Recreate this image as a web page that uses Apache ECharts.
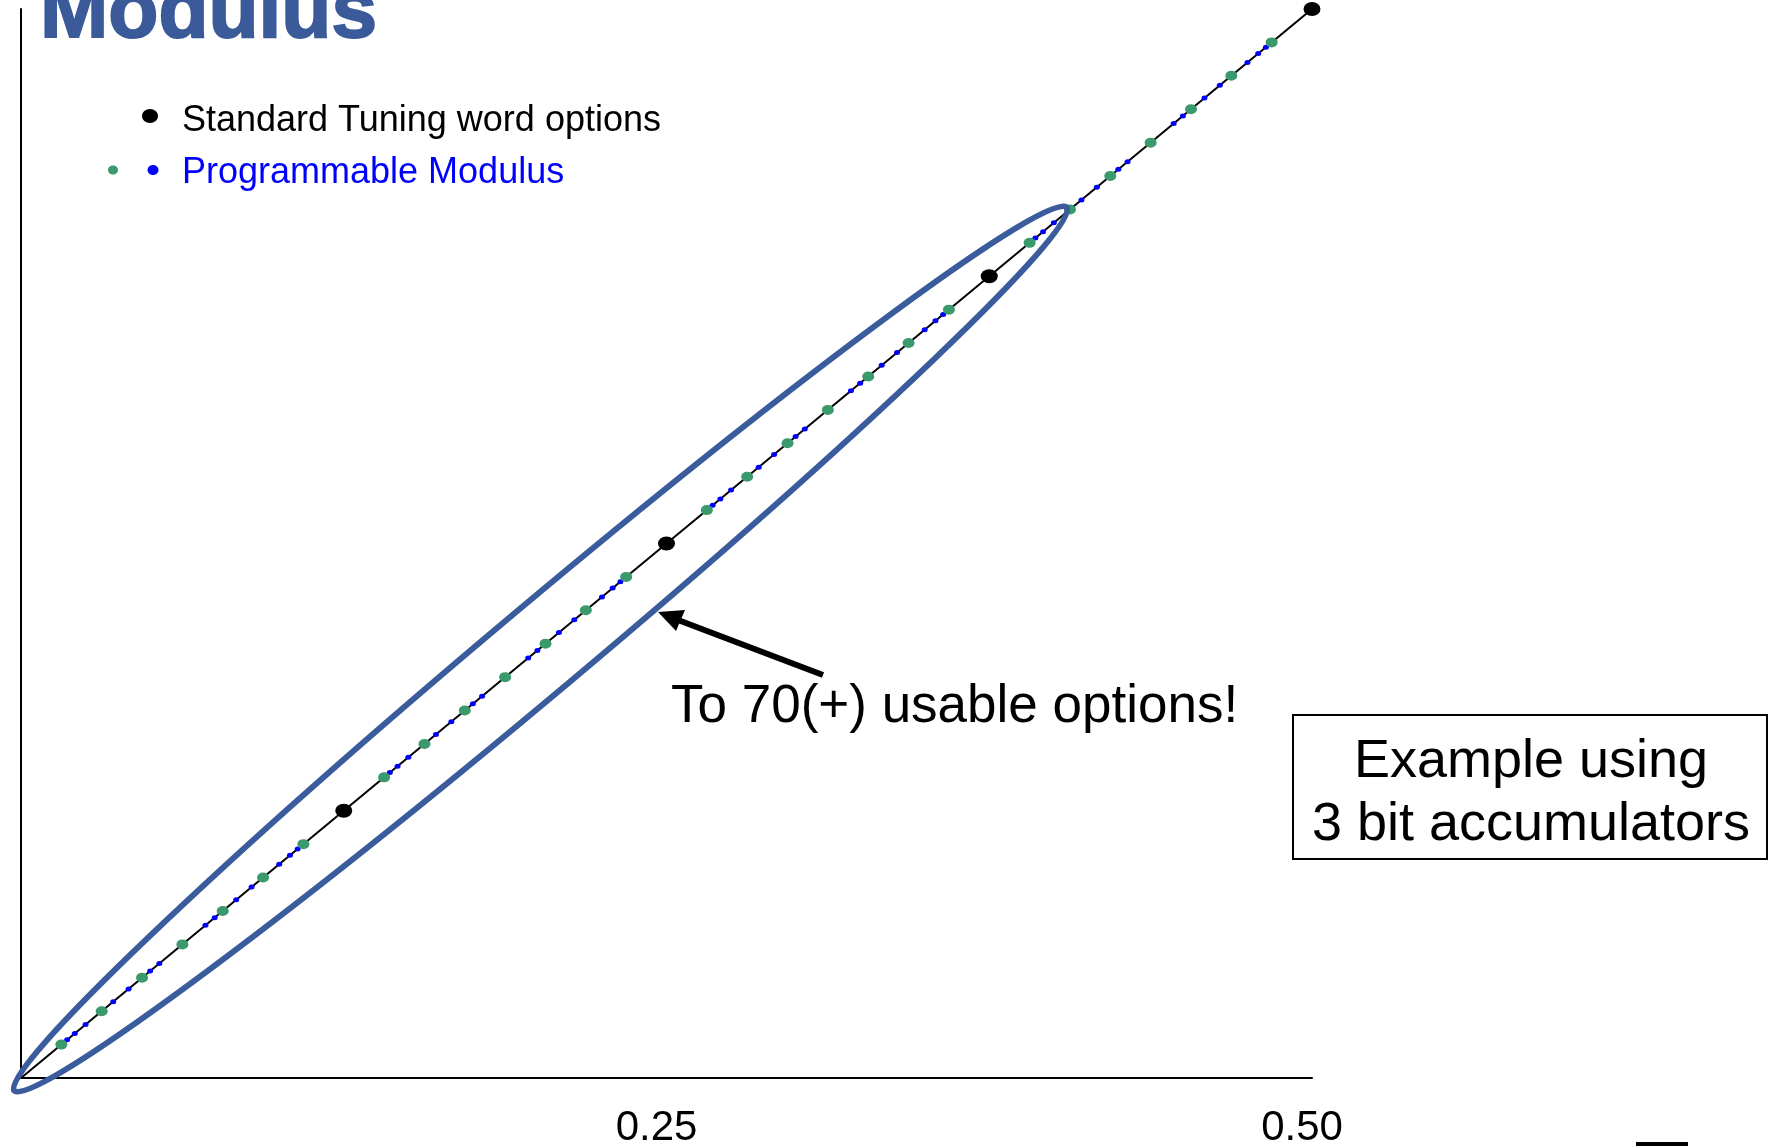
<!DOCTYPE html>
<html><head><meta charset="utf-8">
<script src="https://cdn.jsdelivr.net/npm/echarts@6/dist/echarts.min.js"></script>
<style>html,body{margin:0;padding:0;background:#fff}#c{width:1773px;height:1146px}</style>
</head><body><div id="c"></div>
<script>
// ---- data (every point lies on y = x) ----
const xTickValues = [0, 0.25, 0.5];
const diagonalX = [0, 0.5];
const standardOptions = [0.125, 0.25, 0.375, 0.5];
const modulus64 = [0.015625, 0.03125, 0.046875, 0.0625, 0.078125, 0.09375, 0.109375,
  0.140625, 0.15625, 0.171875, 0.1875, 0.203125, 0.21875, 0.234375,
  0.265625, 0.28125, 0.296875, 0.3125, 0.328125, 0.34375, 0.359375,
  0.390625, 0.40625, 0.421875, 0.4375, 0.453125, 0.46875, 0.484375];
const modulus40 = [0.025, 0.05, 0.075, 0.1, 0.15, 0.175, 0.2, 0.225,
  0.275, 0.3, 0.325, 0.35, 0.4, 0.425, 0.45, 0.475];
const modulus48 = [0.020833, 0.041667, 0.083333, 0.104167, 0.145833, 0.166667, 0.208333, 0.229167,
  0.270833, 0.291667, 0.333333, 0.354167, 0.395833, 0.416667, 0.458333, 0.479167];
const modulus56 = [0.017857, 0.035714, 0.053571, 0.071429, 0.089286, 0.107143,
  0.142857, 0.160714, 0.178571, 0.196429, 0.214286, 0.232143,
  0.267857, 0.285714, 0.303571, 0.321429, 0.339286, 0.357143,
  0.392857, 0.410714, 0.428571, 0.446429, 0.464286, 0.482143];

const FONT = '"Liberation Sans", Arial, sans-serif';
const BLUE = '#0000ff', GREEN = '#3a9a6b', FRAME = '#3a5b9c';
const onDiag = arr => arr.map(v => [v, v]);

const chart = echarts.init(document.getElementById('c'), null, {renderer: 'canvas'});

const blueSeries = [modulus40, modulus48, modulus56].map(arr => ({
  name: 'Programmable Modulus', type: 'scatter', data: onDiag(arr),
  symbol: 'circle', symbolSize: [6, 5], itemStyle: {color: BLUE, opacity: 1}, z: 3, silent: true
}));

chart.setOption({
  animation: false,
  backgroundColor: '#fff',
  grid: {left: 21, right: 461, top: 9, bottom: 68, containLabel: false, outerBoundsMode: 'none'},
  xAxis: {
    type: 'value', min: 0, max: 0.5, interval: 0.25,
    axisLine: {show: true, lineStyle: {color: '#000', width: 2}},
    axisTick: {show: false}, splitLine: {show: false},
    axisLabel: {
      color: '#000', fontFamily: FONT, fontSize: 42, margin: 29, padding: [0, 20, 0, 0],
      formatter: v => (xTickValues.indexOf(v) > 0 ? v.toFixed(2) : '')
    }
  },
  yAxis: {
    type: 'value', min: 0, max: 0.5,
    axisLine: {show: true, lineStyle: {color: '#000', width: 2}},
    axisTick: {show: false}, splitLine: {show: false}, axisLabel: {show: false}
  },
  series: [
    {name: 'diagonal', type: 'line', data: onDiag(diagonalX), showSymbol: false,
     lineStyle: {color: '#000', width: 2}, z: 2, silent: true},
    ...blueSeries,
    {name: 'Programmable Modulus 64', type: 'scatter', data: onDiag(modulus64),
     symbol: 'circle', symbolSize: [12, 10], itemStyle: {color: GREEN, opacity: 1}, z: 4, silent: true},
    {name: 'Standard Tuning word options', type: 'scatter', data: onDiag(standardOptions),
     symbol: 'circle', symbolSize: [17, 14], itemStyle: {color: '#000', opacity: 1}, z: 5, silent: true}
  ],
  graphic: [
    // title (cut at top edge)
    {type: 'text', x: 40, y: 14, z: 10,
     style: {text: 'Modulus', fill: '#3b5a9a', stroke: '#3b5a9a', lineWidth: 2,
             font: 'bold 82px ' + FONT, verticalAlign: 'middle', align: 'left'}},
    // legend
    {type: 'ellipse', shape: {cx: 150, cy: 116, rx: 8, ry: 7}, style: {fill: '#000'}, z: 10},
    {type: 'text', x: 182, y: 121, z: 10,
     style: {text: 'Standard Tuning word options', fill: '#000', font: '36px ' + FONT,
             verticalAlign: 'middle', align: 'left'}},
    {type: 'ellipse', shape: {cx: 113, cy: 170, rx: 5, ry: 4.5}, style: {fill: GREEN}, z: 10},
    {type: 'ellipse', shape: {cx: 153, cy: 170, rx: 5.5, ry: 5}, style: {fill: BLUE}, z: 10},
    {type: 'text', x: 182, y: 173, z: 10,
     style: {text: 'Programmable Modulus', fill: BLUE, font: '36px ' + FONT,
             verticalAlign: 'middle', align: 'left'}},
    // highlight ellipse
    {type: 'ellipse', x: 540.5, y: 649, rotation: 40 * Math.PI / 180, z: 8,
     shape: {cx: 0, cy: 0, rx: 687, ry: 44},
     style: {fill: null, stroke: FRAME, lineWidth: 6}},
    // arrow
    {type: 'line', shape: {x1: 823, y1: 675, x2: 678, y2: 620}, z: 9,
     style: {stroke: '#000', lineWidth: 6}},
    {type: 'polygon', shape: {points: [[658, 612], [685, 610], [676, 631]]}, z: 9,
     style: {fill: '#000'}},
    {type: 'text', x: 671, y: 707, z: 10,
     style: {text: 'To 70(+) usable options!', fill: '#000', font: '53px ' + FONT,
             verticalAlign: 'middle', align: 'left'}},
    // example box
    {type: 'rect', shape: {x: 1293, y: 715, width: 474, height: 144}, z: 10,
     style: {fill: '#fff', stroke: '#000', lineWidth: 2}},
    {type: 'text', x: 1531, y: 762, z: 11,
     style: {text: 'Example using', fill: '#000', font: '54px ' + FONT,
             verticalAlign: 'middle', align: 'center'}},
    {type: 'text', x: 1531, y: 825, z: 11,
     style: {text: '3 bit accumulators', fill: '#000', font: '54px ' + FONT,
             verticalAlign: 'middle', align: 'center'}},
    // fragment at bottom-right edge
    {type: 'rect', shape: {x: 1636, y: 1142, width: 52, height: 4}, z: 10, style: {fill: '#000'}}
  ]
});
</script></body></html>
